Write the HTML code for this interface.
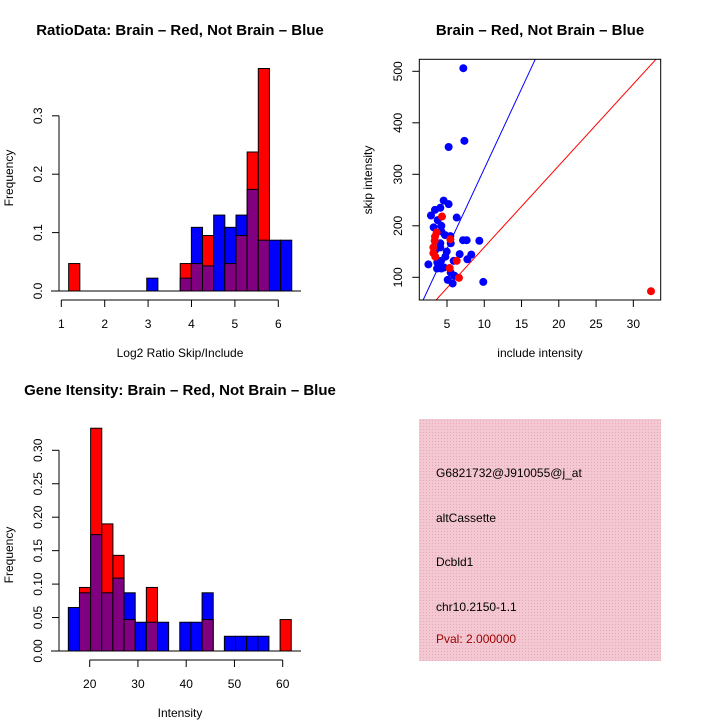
<!DOCTYPE html>
<html><head><meta charset="utf-8"><style>
html,body{margin:0;padding:0;background:#fff;}
svg{display:block;font-family:"Liberation Sans",sans-serif;}
</style></head><body>
<svg id="s" width="720" height="720" viewBox="0 0 720 720">
<defs>
<pattern id="hatch" width="3" height="3" patternUnits="userSpaceOnUse">
<rect width="3" height="3" fill="#f4c8d2"/><rect width="1" height="1" fill="#e8a8b8"/>
</pattern>
</defs>
<text x="180" y="35" text-anchor="middle" font-size="15" font-weight="bold">RatioData: Brain – Red, Not Brain – Blue</text>
<text x="540" y="35" text-anchor="middle" font-size="15" font-weight="bold">Brain – Red, Not Brain – Blue</text>
<text x="180" y="395" text-anchor="middle" font-size="15" font-weight="bold">Gene Itensity: Brain – Red, Not Brain – Blue</text>
<text x="180" y="357" text-anchor="middle" font-size="12">Log2 Ratio Skip/Include</text>
<text transform="translate(13,178) rotate(-90)" text-anchor="middle" font-size="12">Frequency</text>
<text x="180" y="717" text-anchor="middle" font-size="12">Intensity</text>
<text transform="translate(13,555) rotate(-90)" text-anchor="middle" font-size="12">Frequency</text>
<text x="540" y="357" text-anchor="middle" font-size="12">include intensity</text>
<text transform="translate(372,180) rotate(-90)" text-anchor="middle" font-size="12">skip intensity</text>
<g>
<rect x="419" y="419" width="242" height="242" fill="url(#hatch)"/>
<text x="436" y="477" font-size="12">G6821732@J910055@j_at</text>
<text x="436" y="522" font-size="12">altCassette</text>
<text x="436" y="566" font-size="12">Dcbld1</text>
<text x="436" y="611" font-size="12">chr10.2150-1.1</text>
<text x="436" y="643" font-size="12" fill="#990000">Pval: 2.000000</text>
</g>
<g id="g1"></g>
<g id="g2"></g>
<g id="g3"></g>
</svg>
<script>
// Ratio histogram data
const ratioBinStart = 3.74, ratioBinWidth = 0.257;
const ratioBins = [-10,-3,0,1,2,3,4,5,6,7,8,9];
const ratioRed  = [0.047,0,0.047,0.047,0.095,0,0.047,0.095,0.238,0.381,0,0];
const ratioBlue = [0,0.022,0.022,0.109,0.043,0.130,0.109,0.130,0.174,0.087,0.087,0.087];
const ratioXTicks = [1,2,3,4,5,6];
const ratioYTicks = ["0.0","0.1","0.2","0.3"];
// Intensity histogram data
const intBinStart = 15.57, intBinWidth = 2.31;
const intBins = [0,1,2,3,4,5,6,7,8,10,11,12,14,15,16,17,19];
const intRed  = [0,0.095,0.333,0.190,0.143,0.047,0,0.095,0,0,0,0.047,0,0,0,0,0.047];
const intBlue = [0.065,0.087,0.174,0.087,0.109,0.087,0.043,0.043,0.043,0.043,0.043,0.087,0.022,0.022,0.022,0.022,0];
const intXTicks = [20,30,40,50,60];
const intYTicks = ["0.00","0.05","0.10","0.15","0.20","0.25","0.30"];
// Scatter data
const blueX = [7.19,7.33,5.22,4.55,5.22,2.85,3.39,4.1,6.3,3.75,3.21,4.24,4.24,4.73,5.45,5.5,4.1,4.1,3.43,4.96,4.78,4.2,3.7,3.66,4.24,4.6,5.9,6.7,7.15,7.64,9.34,8.26,7.73,2.5,5.5,6.0,5.1,5.76,9.87];
const blueY = [506,365,353,249,242,220,231,235,216,211,197,200,189,182,180,166,166,158,153,150,140,132,129,117,117,119,132,145,172,172,171,144,135,125,109,103,95,88,91];
const redX = [4.33,3.39,3.61,3.35,3.17,3.17,3.43,5.45,6.3,5.36,6.6,32.37];
const redY = [218,179,187,171,158,147,140,174,132,118,99,73];
const redSlope = 15.84, blueSlope = 31.07;
const scXTicks = [5,10,15,20,25,30];
const scYTicks = [100,200,300,400,500];

const NS="http://www.w3.org/2000/svg";
function mk(parent,tag,attrs,text){const e=document.createElementNS(NS,tag);for(const k in attrs)e.setAttribute(k,attrs[k]);if(text!==undefined)e.textContent=text;parent.appendChild(e);return e;}

function hist(g,bins,red,blue,bs,bw,sx,sy,y0){
  bins.forEach((b,i)=>{
    const x0=sx(bs+b*bw), x1=sx(bs+(b+1)*bw);
    const r=red[i], bl=blue[i], mx=Math.max(r,bl), mn=Math.min(r,bl);
    if(mx>0){
      const e=mk(g,'rect',{x:x0,y:sy(mx),width:x1-x0,height:y0-sy(mx),fill:r>=bl?'#ff0000':'#0000ff',stroke:'#000','stroke-width':1});
      
      
    }
    if(mn>0){
      const e=mk(g,'rect',{x:x0,y:sy(mn),width:x1-x0,height:y0-sy(mn),fill:'#800080',stroke:'#000','stroke-width':1});
      
      
    }
  });
}
function line(g,x1,y1,x2,y2,c){return mk(g,'line',{x1,y1,x2,y2,stroke:c||'#000','stroke-width':1});}

// Panel 1
(function(){
  const g=document.getElementById('g1');
  const sx=v=>61.3+(v-1)*43.4, sy=v=>291-v*584;
  hist(g,ratioBins,ratioRed,ratioBlue,ratioBinStart,ratioBinWidth,sx,sy,291);
  line(g,51,291,301,291);
  line(g,59,sy(0),59,sy(0.3));
  ratioYTicks.forEach(t=>{const y=sy(+t);line(g,52,y,59,y);
    const e=mk(g,'text',{transform:`translate(42,${y}) rotate(-90)`,'text-anchor':'middle','font-size':12},t);
    
    });
  line(g,sx(1),300,sx(6),300);
  ratioXTicks.forEach(t=>{const x=sx(t);line(g,x,300,x,307);
    const e=mk(g,'text',{x:x,y:328,'text-anchor':'middle','font-size':12},t);
    
    });
})();
// Panel 2
(function(){
  const g=document.getElementById('g2');
  const sx=v=>89.7+(v-20)*4.825, sy=v=>651-v*669;
  hist(g,intBins,intRed,intBlue,intBinStart,intBinWidth,sx,sy,651);
  line(g,51,651,301,651);
  line(g,59,sy(0),59,sy(0.3));
  intYTicks.forEach(t=>{const y=sy(+t);line(g,52,y,59,y);
    const e=mk(g,'text',{transform:`translate(42,${y}) rotate(-90)`,'text-anchor':'middle','font-size':12},t);
    
    });
  line(g,sx(20),660,sx(60),660);
  intXTicks.forEach(t=>{const x=sx(t);line(g,x,660,x,667);
    const e=mk(g,'text',{x:x,y:688,'text-anchor':'middle','font-size':12},t);
    
    });
})();
// Panel 3
(function(){
  const g=document.getElementById('g3');
  const L=419.3,R=660.7,T=59.3,B=300;
  const sx=v=>447+(v-5)*7.453, sy=v=>277.3-(v-100)*0.515;
  const vy0=(277.3-B)/0.515+100, vy1=(277.3-T)/0.515+100;
  const cp=mk(g,'clipPath',{id:'cp'});mk(cp,'rect',{x:L,y:T,width:R-L,height:B-T});
  const lg=mk(g,'g',{'clip-path':'url(#cp)'});
  [[blueSlope,'#0000ff','blue-fit-line'],[redSlope,'#ff0000','red-fit-line']].forEach(([s,c,n])=>{
    const e=line(lg,sx(vy0/s),sy(vy0),sx(vy1/s),sy(vy1),c);
    
    
  });
  blueX.forEach((x,i)=>{const e=mk(lg,'circle',{cx:sx(x),cy:sy(blueY[i]),r:4,fill:'#0000ff'});
    
    });
  redX.forEach((x,i)=>{const e=mk(lg,'circle',{cx:sx(x),cy:sy(redY[i]),r:4,fill:'#ff0000'});
    
    });
  mk(g,'rect',{x:L,y:T,width:R-L,height:B-T,fill:'none',stroke:'#000','stroke-width':1});
  scXTicks.forEach(t=>{const x=sx(t);line(g,x,B,x,B+7);
    const e=mk(g,'text',{x:x,y:328,'text-anchor':'middle','font-size':12},t);
    
    });
  scYTicks.forEach(t=>{const y=sy(t);line(g,L-7,y,L,y);
    const e=mk(g,'text',{transform:`translate(402,${y}) rotate(-90)`,'text-anchor':'middle','font-size':12},t);
    
    });
})();
</script>
</body></html>
